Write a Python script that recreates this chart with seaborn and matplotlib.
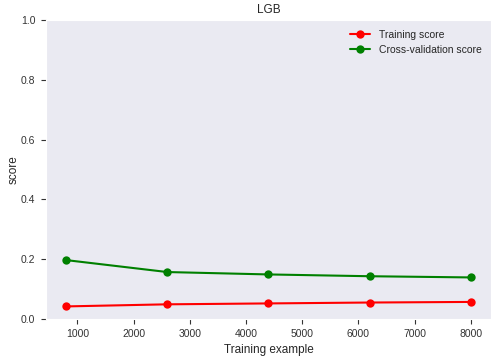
import numpy as np
import pandas as pd
import seaborn as sns
import matplotlib.pyplot as plt

train_sizes = [800, 2600, 4400, 6200, 8000]
train_scores = [0.042, 0.049, 0.052, 0.055, 0.057]
cv_scores = [0.197, 0.157, 0.149, 0.143, 0.139]


def main():
    sns.set_style("darkgrid", {"axes.grid": False, "xtick.bottom": True, "ytick.left": True,
                               "xtick.major.size": 3, "ytick.major.size": 3})
    plt.rcParams['font.family'] = ['Liberation Sans', 'DejaVu Sans']
    plt.rcParams['font.size'] = 8

    df = pd.DataFrame({'size': train_sizes, 'train': train_scores, 'cv': cv_scores})

    fig, ax = plt.subplots(figsize=(4.99, 3.6), dpi=100)
    fig.subplots_adjust(left=0.092, right=0.984, top=0.944, bottom=0.114)

    sns.lineplot(data=df, x='size', y='train', ax=ax, color='r', marker='o',
                 markersize=6, markeredgewidth=0, label='Training score')
    sns.lineplot(data=df, x='size', y='cv', ax=ax, color='g', marker='o',
                 markersize=6, markeredgewidth=0, label='Cross-validation score')

    ax.set_ylim(0, 1.0)
    ax.set_title('LGB', fontsize=8.5, pad=5)
    ax.set_xlabel('Training example', fontsize=8.5, labelpad=3)
    ax.set_ylabel('score', fontsize=8.5, labelpad=1)
    ax.tick_params(labelsize=7.5, colors='#333333', pad=4)
    ax.legend(loc='upper right', frameon=False, fontsize=7.5)

    fig.savefig('out.png', dpi=100)


if __name__ == "__main__":
    main()
